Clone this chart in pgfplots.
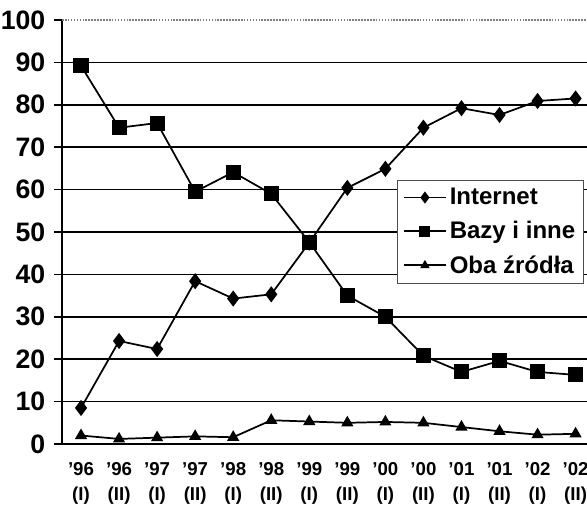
\documentclass[border=0pt]{standalone}
\usepackage{fontspec}
\setmainfont{Liberation Sans}
\usepackage{pgfplots}
\pgfplotsset{compat=1.18}
\newcommand\yl[1]{\fontsize{20}{22}\selectfont\bfseries #1}
\newcommand\xl[2]{\fontsize{14}{19}\selectfont\bfseries #1\\#2}
\begin{document}
\begin{tikzpicture}
\begin{axis}[
  scale only axis,
  width=393.75pt, height=318pt,
  xmin=-0.5, xmax=13.3,
  ymin=0, ymax=100,
  axis lines=left,
  axis line style={-, line width=1.3pt},
  clip=false,
  ytick={0,10,...,90},
  yticklabels={\yl{0},\yl{10},\yl{20},\yl{30},\yl{40},\yl{50},\yl{60},\yl{70},\yl{80},\yl{90}},
  extra y ticks={100},
  extra y tick labels={\yl{100}},
  extra y tick style={grid style={gray, densely dotted, line width=1pt}},
  ymajorgrids,
  grid style={black, line width=1.2pt},
  tick align=outside,
  major tick length=6pt,
  tick style={black, line width=1.2pt},
  yticklabel style={xshift=-3pt},
  xtick={0,...,13},
  xticklabels={{\xl{'96}{(I)}},{\xl{'96}{(II)}},{\xl{'97}{(I)}},{\xl{'97}{(II)}},{\xl{'98}{(I)}},{\xl{'98}{(II)}},{\xl{'99}{(I)}},{\xl{'99}{(II)}},{\xl{'00}{(I)}},{\xl{'00}{(II)}},{\xl{'01}{(I)}},{\xl{'01}{(II)}},{\xl{'02}{(I)}},{\xl{'02}{(II)}}},
  xticklabel style={align=center, yshift=-4pt, font=\fontsize{14}{19}\selectfont\bfseries},
  x tick style={draw=none},
  extra x ticks={0.5,1.5,...,12.5},
  extra x tick labels={},
  extra x tick style={tick style={black, line width=1.2pt, draw=black}, major tick length=5pt, grid=none},
  legend style={at={(rel axis cs:0.638,0.623)}, anchor=north west,
    draw=black!70, line width=0.7pt, font=\fontsize{18}{20}\selectfont\bfseries,
    row sep=7pt, inner sep=4pt},
  legend cell align=left,
  legend image code/.code={\draw[mark repeat=2,mark phase=2,#1,mark options={scale=0.7}] plot coordinates {(0pt,0pt) (16pt,0pt) (32pt,0pt)};},
]
\addplot[black, line width=1.3pt, mark=diamond*, mark size=5pt, mark options={solid}] coordinates {
(0,8.5) (1,24.3) (2,22.4) (3,38.4) (4,34.3) (5,35.3) (6,47.5) (7,60.4) (8,64.9) (9,74.6) (10,79.2) (11,77.6) (12,80.9) (13,81.5)};
\addlegendentry{Internet}
\addplot[black, line width=1.3pt, mark=square*, mark size=5pt] coordinates {
(0,89.2) (1,74.6) (2,75.7) (3,59.5) (4,64.1) (5,59.0) (6,47.6) (7,35.0) (8,30.0) (9,20.8) (10,17.0) (11,19.6) (12,17.0) (13,16.3)};
\addlegendentry{Bazy i inne}
\addplot[black, line width=1.3pt, mark=triangle*, mark size=4pt] coordinates {
(0,2.0) (1,1.2) (2,1.5) (3,1.8) (4,1.6) (5,5.6) (6,5.3) (7,5.0) (8,5.2) (9,5.0) (10,4.0) (11,3.0) (12,2.2) (13,2.4)};
\addlegendentry{Oba źródła}
\end{axis}
\pgfresetboundingbox
\useasboundingbox ([xshift=-46.5pt,yshift=-48pt]current axis.south west) rectangle ([yshift=15pt]current axis.north east);
\end{tikzpicture}
\end{document}
